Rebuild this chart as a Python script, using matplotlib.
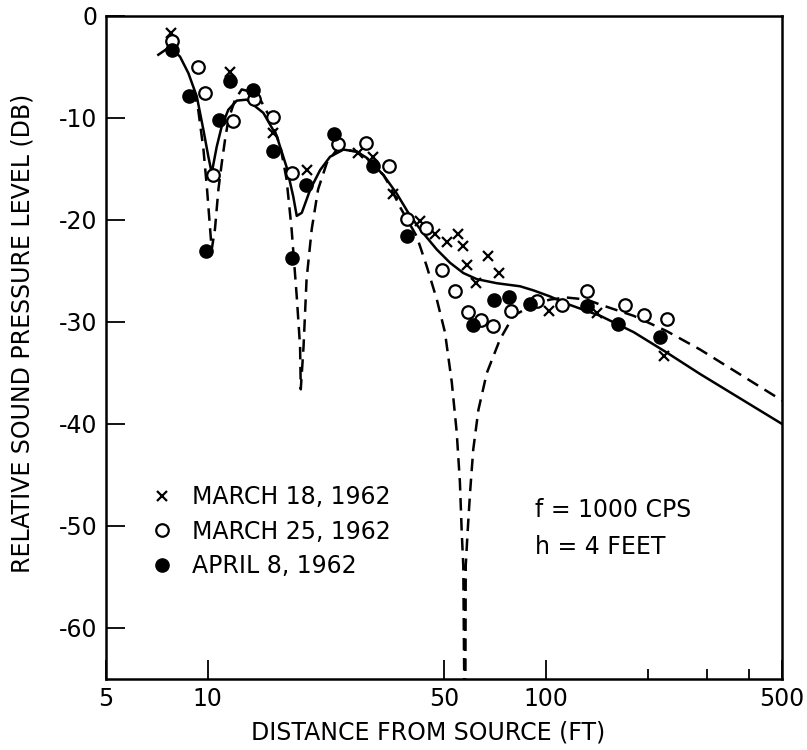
#!/usr/bin/env python3
"""
Sound propagation plot: relative sound pressure level against distance
from the source, f = 1000 cps, h = 4 feet, with field data from three days.
"""

import matplotlib
matplotlib.use("Agg")
import matplotlib.pyplot as plt
from matplotlib.ticker import FixedLocator, FixedFormatter, NullFormatter

# Measured points (distance in ft, level in dB)
march18_x = [7.8, 11.6, 15.6, 19.6, 27.8, 30.8, 35.4, 42.5, 47.0, 50.9, 54.9,
             56.8, 58.4, 62.2, 67.3, 72.7, 102.4, 142.1, 223.8]
march18_y = [-1.7, -5.5, -11.5, -15.1, -13.4, -13.8, -17.5, -20.1, -21.4, -22.2,
             -21.4, -22.6, -24.4, -26.2, -23.5, -25.2, -28.9, -29.1, -33.3]

march25_x = [7.85, 9.33, 9.8, 10.35, 11.9, 13.7, 15.6, 17.7, 24.3, 29.3, 34.4,
             38.9, 44.1, 49.2, 53.9, 59.0, 64.2, 69.9, 78.8, 94.4, 111.5, 132.7,
             171.6, 195.7, 228.0]
march25_y = [-2.5, -5.0, -7.6, -15.6, -10.3, -8.1, -9.9, -15.4, -12.55, -12.5,
             -14.7, -19.9, -20.8, -24.9, -27.0, -29.0, -29.8, -30.4, -28.9, -27.9,
             -28.3, -27.0, -28.3, -29.3, -29.7]

april8_x = [7.82, 8.8, 9.9, 10.8, 11.6, 13.6, 15.6, 17.7, 19.5, 23.6, 30.9, 38.9,
            60.8, 70.4, 78.0, 89.8, 132.7, 164.0, 217.8]
april8_y = [-3.3, -7.8, -23.0, -10.2, -6.4, -7.3, -13.2, -23.7, -16.6, -11.6,
            -14.7, -21.6, -30.3, -27.8, -27.6, -28.2, -28.4, -30.2, -31.5]

# Curves
solid_x = [7.14, 7.74, 8.28, 8.76, 9.28, 9.71, 10.04, 10.27, 10.63, 11.0, 11.5,
           12.18, 13.04, 14.6, 16.0, 17.1, 17.9, 18.33, 18.97, 20.1, 21.5, 23.0,
           25.2, 27.6, 29.5, 33.1, 36.2, 39.7, 43.4, 47.6, 52.1, 57.0, 62.5,
           71.6, 83.9, 91.9, 103.0, 115.0, 145.0, 182.0, 228.0, 286.0, 500.0]
solid_y = [-3.8, -3.0, -4.0, -5.6, -7.9, -11.2, -13.8, -15.4, -12.8, -10.8, -9.2,
           -8.3, -8.2, -9.5, -11.8, -14.8, -17.7, -19.6, -19.3, -17.0, -15.1,
           -13.8, -13.1, -13.3, -13.9, -15.6, -17.4, -19.6, -21.3, -22.9, -24.2,
           -25.2, -25.8, -26.2, -26.5, -26.9, -27.5, -28.2, -29.4, -31.0, -33.0,
           -35.1, -40.0]

dashed_x = [9.07, 9.37, 9.71, 9.95, 10.16, 10.27, 10.5, 10.75, 11.0, 11.25, 11.5,
            12.04, 12.6, 13.3, 14.3, 15.3, 16.4, 17.1, 17.7, 18.33, 18.75, 18.84,
            19.2, 19.6, 20.3, 21.2, 22.5, 24.1, 25.2, 27.6, 29.5, 33.1, 34.6,
            37.0, 41.5, 44.4, 47.6, 50.3, 52.7, 54.5, 55.7, 56.4, 57.0, 57.7,
            57.96, 58.7, 59.7, 61.0, 63.2, 66.9, 73.2, 80.2, 91.9, 103.0, 115.0,
            132.0, 145.0, 182.0, 228.0, 286.0, 500.0]
dashed_y = [-7.2, -9.2, -13.1, -17.0, -20.9, -22.9, -20.9, -17.0, -14.4, -12.1,
            -10.2, -8.2, -7.2, -7.4, -8.2, -10.0, -12.8, -16.0, -20.9, -27.5,
            -32.4, -36.6, -32.4, -25.8, -20.9, -17.0, -14.4, -13.1, -13.1, -13.3,
            -13.9, -15.6, -16.7, -18.7, -21.6, -24.5, -27.8, -31.0, -35.9, -40.8,
            -45.7, -50.6, -53.9, -75.0, -53.9, -50.6, -46.7, -42.5, -38.6, -35.0,
            -31.7, -29.4, -28.3, -27.8, -27.6, -27.8, -28.3, -29.4, -30.9, -32.7,
            -37.7]

x_ticks = [5, 10, 50, 100, 500]
x_tick_labels = ["5", "10", "50", "100", "500"]
x_minor_ticks = [200, 300, 400]
y_ticks = [0, -10, -20, -30, -40, -50, -60]
y_tick_labels = ["0", "-10", "-20", "-30", "-40", "-50", "-60"]

legend_labels = ["MARCH 18, 1962", "MARCH 25, 1962", "APRIL 8, 1962"]
note_lines = ["f = 1000 CPS", "h = 4 FEET"]

FONT_SIZE = 17


def plot_levels(output_path="out.png"):
    plt.rcParams['font.family'] = ['DejaVu Sans']
    plt.rcParams['axes.unicode_minus'] = False

    fig = plt.figure(figsize=(8.07, 7.5), dpi=100)
    ax = fig.add_axes([0.1314, 0.0947, 0.8377, 0.884])

    # theory curves
    ax.plot(solid_x, solid_y, color='black', lw=1.8)
    ax.plot(dashed_x, dashed_y, color='black', lw=1.8, dashes=(5, 3))

    # field data
    h1, = ax.plot(march18_x, march18_y, ls='none', marker='x', color='black',
                  ms=7, mew=1.6, label=legend_labels[0])
    h2, = ax.plot(march25_x, march25_y, ls='none', marker='o', mfc='white',
                  mec='black', ms=9, mew=1.6, label=legend_labels[1])
    h3, = ax.plot(april8_x, april8_y, ls='none', marker='o', color='black',
                  ms=9.5, label=legend_labels[2])

    ax.set_xscale('log')
    ax.set_xlim(5, 500)
    ax.set_ylim(-65, 0)

    ax.xaxis.set_major_locator(FixedLocator(x_ticks))
    ax.xaxis.set_major_formatter(FixedFormatter(x_tick_labels))
    ax.xaxis.set_minor_locator(FixedLocator(x_minor_ticks))
    ax.xaxis.set_minor_formatter(NullFormatter())
    ax.set_yticks(y_ticks)
    ax.set_yticklabels(y_tick_labels)

    ax.tick_params(axis='both', which='major', direction='in', length=14,
                   width=1.3, labelsize=FONT_SIZE, top=False, right=False)
    ax.tick_params(axis='x', which='major', pad=6)
    ax.tick_params(axis='y', which='major', pad=6)
    ax.tick_params(axis='x', which='minor', direction='in', length=7,
                   width=1.3, top=False)
    for spine in ax.spines.values():
        spine.set_linewidth(1.8)

    ax.set_xlabel('DISTANCE FROM SOURCE (FT)', fontsize=FONT_SIZE, va='center')
    ax.xaxis.set_label_coords(0.476, -0.0814)
    ax.set_ylabel('RELATIVE SOUND PRESSURE LEVEL (DB)', fontsize=FONT_SIZE,
                  va='center')
    ax.yaxis.set_label_coords(-0.124, 0.522)

    ax.legend(handles=[h1, h2, h3], loc='upper left',
              bbox_to_anchor=(0.065, 0.2926), frameon=False, fontsize=FONT_SIZE,
              borderpad=0, borderaxespad=0, handlelength=1.0,
              handletextpad=0.8, labelspacing=0.45)

    ax.text(0.6346, 0.2549, note_lines[0], transform=ax.transAxes,
            fontsize=FONT_SIZE, va='center', ha='left')
    ax.text(0.6346, 0.199, note_lines[1], transform=ax.transAxes,
            fontsize=FONT_SIZE, va='center', ha='left')

    fig.savefig(output_path, dpi=100)
    print(f"Saved plot to: {output_path}")


def main():
    plot_levels("out.png")


if __name__ == "__main__":
    main()
